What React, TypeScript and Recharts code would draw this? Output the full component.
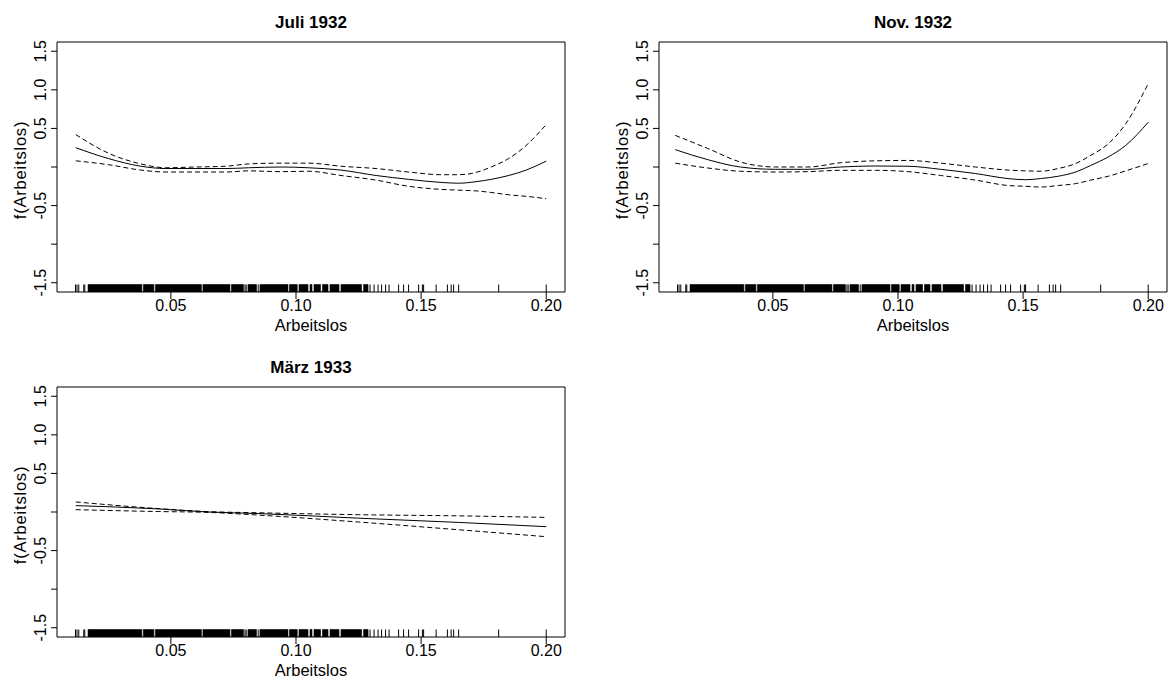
import {
  Area,
  ComposedChart,
  Line,
  ReferenceArea,
  ReferenceLine,
  XAxis,
  YAxis,
} from "recharts";

const X_TICKS = [0.05, 0.1, 0.15, 0.2];
const Y_TICKS = [-1.5, -1, -0.5, 0, 0.5, 1, 1.5];
const Y_LABELED = [-1.5, -0.5, 0.5, 1, 1.5];
const X_DOMAIN: [number, number] = [0.0045, 0.2075];
const Y_DOMAIN: [number, number] = [-1.62, 1.62];
const RUG_TOP = -1.523;

// Juli 1932
const JULI_X = [0.012, 0.025, 0.038, 0.048, 0.06, 0.072, 0.081, 0.094, 0.105, 0.118, 0.132, 0.145, 0.158, 0.165, 0.172, 0.178, 0.185, 0.192, 0.2];
const JULI_FIT = [0.25, 0.11, 0.01, -0.02, -0.02, -0.02, -0.01, 0.0, -0.01, -0.04, -0.11, -0.16, -0.2, -0.21, -0.19, -0.16, -0.11, -0.04, 0.076];
const JULI_UPPER = [0.42, 0.18, 0.04, -0.01, 0.0, 0.01, 0.04, 0.05, 0.05, 0.01, -0.02, -0.065, -0.1, -0.1, -0.07, 0.0, 0.11, 0.28, 0.55];
const JULI_LOWER = [0.08, 0.03, -0.04, -0.065, -0.065, -0.065, -0.05, -0.06, -0.055, -0.11, -0.17, -0.25, -0.29, -0.3, -0.31, -0.33, -0.36, -0.38, -0.41];

// Nov. 1932
const NOV_X = [0.011, 0.024, 0.037, 0.051, 0.064, 0.077, 0.091, 0.104, 0.117, 0.131, 0.144, 0.151, 0.157, 0.164, 0.171, 0.177, 0.184, 0.191, 0.2];
const NOV_FIT = [0.225, 0.095, 0.0, -0.03, -0.03, 0.0, 0.013, 0.01, -0.03, -0.085, -0.15, -0.165, -0.15, -0.12, -0.065, 0.02, 0.13, 0.28, 0.58];
const NOV_UPPER = [0.41, 0.24, 0.065, 0.0, 0.0, 0.055, 0.08, 0.085, 0.05, 0.0, -0.04, -0.05, -0.055, -0.02, 0.045, 0.15, 0.3, 0.56, 1.08];
const NOV_LOWER = [0.05, -0.013, -0.055, -0.065, -0.06, -0.043, -0.043, -0.06, -0.11, -0.17, -0.24, -0.25, -0.26, -0.24, -0.215, -0.17, -0.12, -0.05, 0.045];

// März 1933
const MAERZ_X = [0.012, 0.045, 0.065, 0.085, 0.125, 0.165, 0.2];
const MAERZ_FIT = [0.083, 0.04, 0.0, -0.02, -0.08, -0.135, -0.19];
const MAERZ_UPPER = [0.13, 0.044, 0.005, -0.01, -0.035, -0.05, -0.07];
const MAERZ_LOWER = [0.03, 0.006, -0.005, -0.04, -0.13, -0.23, -0.32];

// rug of observed Arbeitslos values (dense stretches as bands)
const RUG_BANDS: [number, number][] = [
  [0.0169, 0.0384], [0.039, 0.0432], [0.0438, 0.0622], [0.0628, 0.0736],
  [0.0742, 0.079], [0.0808, 0.0842], [0.0856, 0.0968], [0.0974, 0.1005],
  [0.1012, 0.1048], [0.1056, 0.1064], [0.1072, 0.1098], [0.1106, 0.1128],
  [0.1136, 0.1172], [0.118, 0.1262], [0.127, 0.1288],
];
const RUG_SINGLE = [
  0.0119, 0.0125, 0.0132, 0.0152, 0.0156, 0.0796, 0.0801, 0.0849,
  0.1296, 0.1312, 0.1328, 0.1342, 0.1358, 0.1372, 0.141, 0.143, 0.145,
  0.149, 0.1505, 0.151, 0.156, 0.1605, 0.162, 0.163, 0.165, 0.181, 0.2,
];

const FONT = "'Liberation Sans', Arial, sans-serif";

// outline of the dense rug stretches, as one stepped area
const rugOutline = RUG_BANDS.flatMap(([a, b]) => [
  { x: a, rug: Y_DOMAIN[0] },
  { x: a, rug: RUG_TOP },
  { x: b, rug: RUG_TOP },
  { x: b, rug: Y_DOMAIN[0] },
]);

function YTick(props: any) {
  const { x, y, payload } = props;
  if (!Y_LABELED.includes(payload.value)) return <g />;
  return (
    <text
      x={x}
      y={y}
      transform={`rotate(-90, ${x}, ${y})`}
      textAnchor="middle"
      fontSize={16}
      fill="#000"
    >
      {payload.value.toFixed(1)}
    </text>
  );
}

interface PanelProps {
  left: number;
  top: number;
  xs: number[];
  fit: number[];
  upper: number[];
  lower: number[];
}

function Panel({ left, top, xs, fit, upper, lower }: PanelProps) {
  const rows = xs.map((x, i) => ({ x, fit: fit[i], upper: upper[i], lower: lower[i] }));
  return (
    <div style={{ position: "absolute", left: left - 57, top: top - 42 }}>
      <ComposedChart
        width={590}
        height={340}
        data={rows}
        margin={{ top: 42, right: 25, bottom: 0, left: 0 }}
      >
        <XAxis
          type="number"
          dataKey="x"
          domain={X_DOMAIN}
          ticks={X_TICKS}
          interval={0}
          allowDataOverflow
          axisLine={false}
          tickLine={{ stroke: "#000" }}
          tickSize={7}
          tickMargin={1}
          height={48}
          tick={{ fill: "#000", fontSize: 16 }}
          tickFormatter={(v: number) => v.toFixed(2)}
        />
        <YAxis
          type="number"
          domain={Y_DOMAIN}
          ticks={Y_TICKS}
          interval={0}
          allowDataOverflow
          axisLine={false}
          tickLine={{ stroke: "#000" }}
          tickSize={6}
          tickMargin={4.5}
          width={57}
          tick={<YTick />}
        />
        <Area
          data={rugOutline}
          dataKey="rug"
          type="linear"
          baseValue={Y_DOMAIN[0]}
          fill="#000"
          fillOpacity={1}
          stroke="#000"
          strokeWidth={0.6}
          dot={false}
          activeDot={false}
          isAnimationActive={false}
        />
        {RUG_SINGLE.map((v, i) => (
          <ReferenceLine
            key={`s${i}`}
            segment={[{ x: v, y: Y_DOMAIN[0] }, { x: v, y: RUG_TOP }]}
            stroke="#000"
            strokeWidth={1}
            ifOverflow="visible"
          />
        ))}
        <ReferenceArea
          x1={X_DOMAIN[0]}
          x2={X_DOMAIN[1]}
          y1={Y_DOMAIN[0]}
          y2={Y_DOMAIN[1]}
          fill="none"
          stroke="#000"
          strokeWidth={1}
          ifOverflow="visible"
        />
        <Line type="monotone" dataKey="upper" stroke="#000" strokeWidth={1} strokeDasharray="5 3" dot={false} isAnimationActive={false} />
        <Line type="monotone" dataKey="lower" stroke="#000" strokeWidth={1} strokeDasharray="5 3" dot={false} isAnimationActive={false} />
        <Line type="monotone" dataKey="fit" stroke="#000" strokeWidth={1} dot={false} isAnimationActive={false} />
      </ComposedChart>
    </div>
  );
}

const PANELS = [
  { title: "Juli 1932", left: 57, top: 42, xs: JULI_X, fit: JULI_FIT, upper: JULI_UPPER, lower: JULI_LOWER },
  { title: "Nov. 1932", left: 659, top: 42, xs: NOV_X, fit: NOV_FIT, upper: NOV_UPPER, lower: NOV_LOWER },
  { title: "März 1933", left: 57, top: 387, xs: MAERZ_X, fit: MAERZ_FIT, upper: MAERZ_UPPER, lower: MAERZ_LOWER },
];

export default function App() {
  return (
    <div
      style={{
        position: "absolute",
        left: 0,
        top: 0,
        width: 1175,
        height: 680,
        background: "#fff",
        fontFamily: FONT,
        color: "#000",
      }}
    >
      {PANELS.map((p) => (
        <Panel key={p.title} left={p.left} top={p.top} xs={p.xs} fit={p.fit} upper={p.upper} lower={p.lower} />
      ))}
      <svg
        width={1175}
        height={680}
        style={{ position: "absolute", left: 0, top: 0, pointerEvents: "none" }}
        fontFamily={FONT}
      >
        {PANELS.map((p) => (
          <g key={p.title}>
            <text x={p.left + 254} y={p.top - 13.7} textAnchor="middle" fontWeight="bold" fontSize={17} fill="#000">
              {p.title}
            </text>
            <text x={p.left + 254} y={p.top + 289} textAnchor="middle" fontSize={16.5} fill="#000">
              Arbeitslos
            </text>
            <text
              x={p.left - 31}
              y={p.top + 128}
              transform={`rotate(-90, ${p.left - 31}, ${p.top + 128})`}
              textAnchor="middle"
              fontSize={16.5}
              letterSpacing={0.8}
              fill="#000"
            >
              f(Arbeitslos)
            </text>
          </g>
        ))}
      </svg>
    </div>
  );
}
